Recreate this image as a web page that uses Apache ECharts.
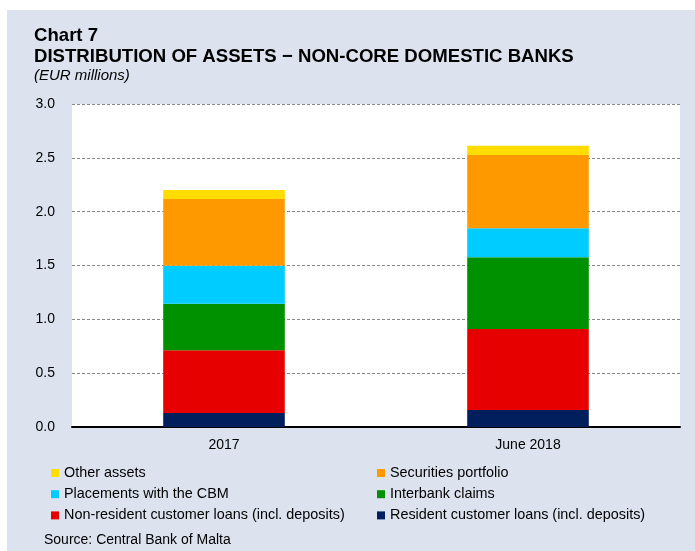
<!DOCTYPE html>
<html>
<head>
<meta charset="utf-8">
<script src="https://cdn.jsdelivr.net/npm/echarts@6/dist/echarts.min.js"></script>
<style>
  html, body { margin: 0; padding: 0; background: #ffffff; }
  #chart { width: 695px; height: 551px; }
</style>
</head>
<body>
<div id="chart"></div>
<script>
// Categories and stacked asset components (EUR billions on the axis)
const categories = ['2017', 'June 2018'];
const residentLoans = [0.13, 0.158];
const nonResidentLoans = [0.582, 0.752];
const interbankClaims = [0.433, 0.666];
const placementsCBM = [0.353, 0.269];
const securitiesPortfolio = [0.620, 0.681];
const otherAssets = [0.083, 0.087];

const yTicks = { min: 0, max: 3, interval: 0.5 };

const FONT = 'Liberation Sans, Arial, Helvetica, sans-serif';

const seriesDefs = [
  { name: 'Resident customer loans (incl. deposits)', data: residentLoans, color: '#001f5c' },
  { name: 'Non-resident customer loans (incl. deposits)', data: nonResidentLoans, color: '#e60000' },
  { name: 'Interbank claims', data: interbankClaims, color: '#009100' },
  { name: 'Placements with the CBM', data: placementsCBM, color: '#00ccff' },
  { name: 'Securities portfolio', data: securitiesPortfolio, color: '#ff9900' },
  { name: 'Other assets', data: otherAssets, color: '#ffdd00' }
];

const legendText = { fontFamily: FONT, fontSize: 14.4, color: '#000', lineHeight: 14 };

const chart = echarts.init(document.getElementById('chart'), null, { renderer: 'canvas' });

chart.setOption({
  animation: false,
  backgroundColor: '#ffffff',
  graphic: [
    { type: 'rect', z: -10, silent: true, shape: { x: 7, y: 10, width: 700, height: 560 }, style: { fill: '#dce3ef' } },
    { type: 'text', left: 34, top: 26, style: { text: 'Chart 7', font: 'bold 18.6px ' + FONT, fill: '#000' } },
    { type: 'text', left: 34, top: 47, style: { text: 'DISTRIBUTION OF ASSETS \u2212 NON-CORE DOMESTIC BANKS', font: 'bold 18.6px ' + FONT, fill: '#000' } },
    { type: 'text', left: 34, top: 68, style: { text: '(EUR millions)', font: 'italic 15px ' + FONT, fill: '#000' } },
    { type: 'text', left: 44, top: 533, style: { text: 'Source: Central Bank of Malta', font: '14px ' + FONT, fill: '#000' } }
  ],
  grid: {
    left: 72, right: 15, top: 104, bottom: 124,
    show: true, backgroundColor: '#ffffff', borderWidth: 0
  },
  legend: [
    {
      left: 46, top: 461, orient: 'vertical', itemWidth: 8, itemHeight: 8, itemGap: 7.2,
      icon: 'rect', textStyle: legendText, selectedMode: false,
      data: ['Other assets', 'Placements with the CBM', 'Non-resident customer loans (incl. deposits)']
    },
    {
      left: 372, top: 461, orient: 'vertical', itemWidth: 8, itemHeight: 8, itemGap: 7.2,
      icon: 'rect', textStyle: legendText, selectedMode: false,
      data: ['Securities portfolio', 'Interbank claims', 'Resident customer loans (incl. deposits)']
    }
  ],
  xAxis: {
    type: 'category',
    data: categories,
    axisLine: { lineStyle: { color: '#000', width: 2 } },
    axisTick: { show: false },
    axisLabel: { color: '#000', fontFamily: FONT, fontSize: 14, margin: 11 },
    splitLine: { show: false }
  },
  yAxis: {
    type: 'value',
    min: yTicks.min, max: yTicks.max, interval: yTicks.interval,
    axisLine: { show: false },
    axisTick: { show: false },
    axisLabel: {
      color: '#000', fontFamily: FONT, fontSize: 14, margin: 17,
      formatter: v => v.toFixed(1)
    },
    splitLine: { lineStyle: { color: '#888', type: [3, 2], width: 1 } }
  },
  series: seriesDefs.map(s => ({
    name: s.name,
    type: 'bar',
    stack: 'assets',
    barWidth: '40%',
    data: s.data,
    itemStyle: { color: s.color },
    emphasis: { disabled: true }
  }))
});
</script>
</body>
</html>
